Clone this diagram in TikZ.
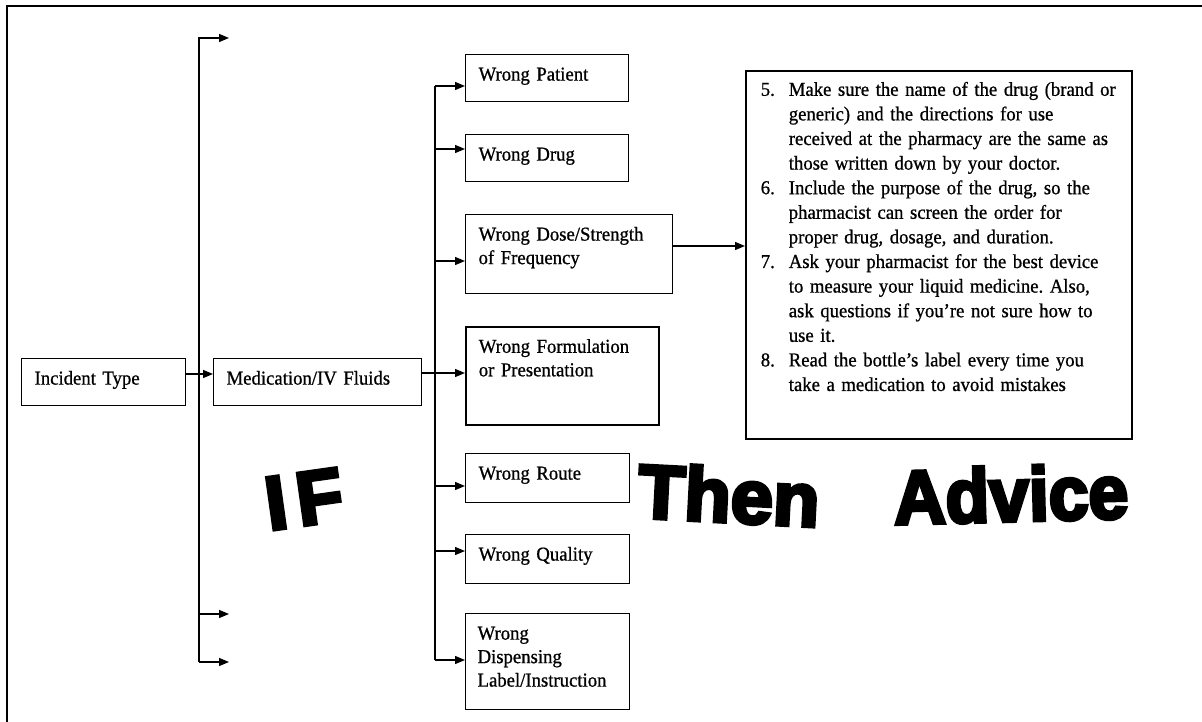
\documentclass[tikz,border=0pt]{standalone}
\usepackage{fontspec}
\setmainfont{Liberation Serif}[FakeStretch=0.95, FakeBold=0.8]
\newfontfamily\wordart[FakeBold=5]{Liberation Sans Bold}
\usetikzlibrary{arrows.meta}
\frenchspacing

\tikzset{
  box/.style={draw, line width=1.2pt, anchor=north west, align=left,
    inner xsep=13pt, inner ysep=0pt, text height=26pt,
    font=\fontsize{19.7}{23.5}\selectfont},
  arr/.style={-{Triangle[length=10pt,width=8pt]}, line width=1.3pt},
  trunk/.style={line width=1.3pt},
  bigword/.style={font=\wordart\fontsize{76}{76}\selectfont, inner sep=0pt}
}

\begin{document}
\begin{tikzpicture}[x=1pt, y=-1pt]
  \useasboundingbox (0,0) rectangle (1202,722);
  \draw[line width=1.8pt] (7,722) -- (7,6) -- (1202,6); % outer frame

  \node[box, text width=138pt, text depth=21pt] (inc) at (21,358) {Incident Type};
  \node[box, text width=182pt, text depth=21pt] (med) at (213,358) {Medication/IV Fluids};

  \node[box, text width=137pt, text depth=21pt] (pat) at (465,54) {Wrong Patient};
  \node[box, text width=137pt, text depth=21pt] (drug) at (465,134) {Wrong Drug};
  \node[box, text width=181pt, text depth=53pt] (dose) at (465,214) {Wrong Dose/Strength\\of Frequency};
  \node[box, text width=167pt, text depth=72pt, line width=1.6pt] (form) at (465,326) {Wrong Formulation\\or Presentation};
  \node[box, text width=138pt, text depth=23pt] (route) at (465,453) {Wrong Route};
  \node[box, text width=138pt, text depth=23pt] (qual) at (465,534) {Wrong Quality};
  \node[box, text width=140pt, text depth=70pt, inner xsep=12pt] (disp) at (465,613) {Wrong\\Dispensing\\Label/Instruction};

  \node[box, inner xsep=15pt, text width=356pt, text height=25pt, text depth=343pt,
    line width=1.6pt, font=\fontsize{19.7}{24.6}\selectfont] (adv) at (745,70) {%
    \begin{tabular}[t]{@{}p{28pt}@{}l@{}}
      5. & Make sure the name of the drug (brand or\\
         & generic) and the directions for use\\
         & received at the pharmacy are the same as\\
         & those written down by your doctor.\\
      6. & Include the purpose of the drug, so the\\
         & pharmacist can screen the order for\\
         & proper drug, dosage, and duration.\\
      7. & Ask your pharmacist for the best device\\
         & to measure your liquid medicine. Also,\\
         & ask questions if you're not sure how to\\
         & use it.\\
      8. & Read the bottle's label every time you\\
         & take a medication to avoid mistakes
    \end{tabular}};

  % first level
  \coordinate (top1) at (229,38);
  \coordinate (low1) at (229,614);
  \coordinate (low2) at (229,662);
  \draw[arr] (199,662) -- (199,38) -- (top1);
  \draw[arr] (199,614) -- (low1);
  \draw[arr] (199,662) -- (low2);
  \draw[arr] (inc.east |- 0,374) -- (med.west |- 0,374);

  % second level
  \draw[trunk] (435,86) -- (435,660);
  \draw[arr] (435,86) -- (pat.west |- 0,86);
  \draw[arr] (435,149) -- (drug.west |- 0,149);
  \draw[arr] (435,261) -- (dose.west |- 0,261);
  \draw[arr] (med.east |- 0,373) -- (form.west |- 0,373);
  \draw[arr] (435,486) -- (route.west |- 0,486);
  \draw[arr] (435,551) -- (qual.west |- 0,551);
  \draw[arr] (435,660) -- (disp.west |- 0,660);
  \draw[arr] (dose.east |- 0,246) -- (adv.west |- 0,246);

  \node[bigword, rotate=8] (if) at (304,499) {I\kern10pt F};
  \node[bigword, rotate=-3] (then) at (729,495) {Then};
  \node[bigword, rotate=1.5, xscale=0.94] (advice) at (1011,494) {Advice};
\end{tikzpicture}
\end{document}
